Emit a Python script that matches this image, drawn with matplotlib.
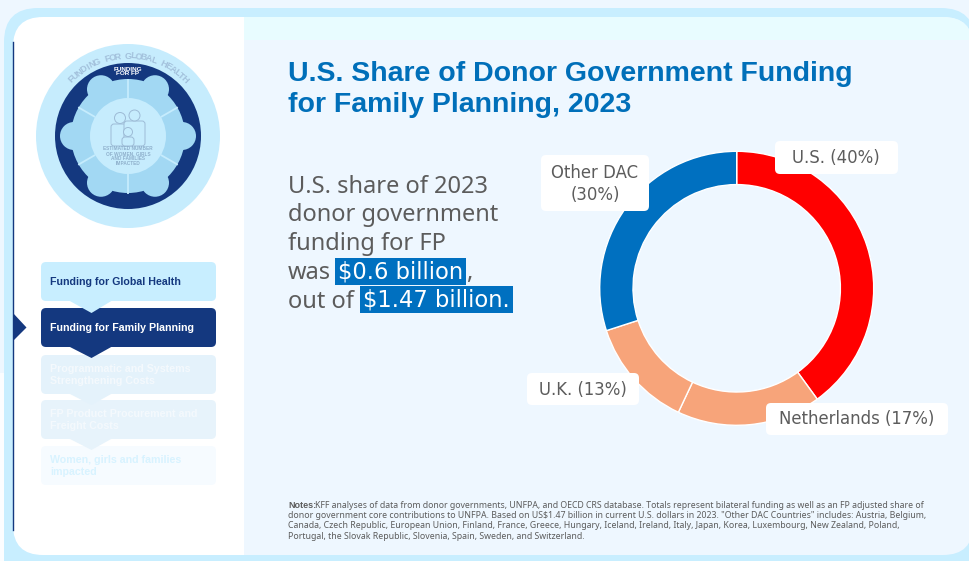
import numpy as np
import matplotlib
matplotlib.use('Agg')
import matplotlib.pyplot as plt
from matplotlib.patches import Circle, FancyBboxPatch, Polygon, Rectangle

plt.rcParams['font.family'] = ['Noto Sans', 'DejaVu Sans']
BOLD = 'Liberation Sans'

# data
donors = ['U.S.', 'Netherlands', 'U.K.', 'Other DAC']
shares = [40, 17, 13, 30]
donor_colors = ['#ff0000', '#f7a47a', '#f7a47a', '#0070c0']

title_lines = ['U.S. Share of Donor Government Funding', 'for Family Planning, 2023']
body_lines = ['U.S. share of 2023', 'donor government', 'funding for FP']
steps = ['Funding for Global Health', 'Funding for Family Planning',
         'Programmatic and Systems\nStrengthening Costs',
         'FP Product Procurement and\nFreight Costs',
         'Women, girls and families\nimpacted']
notes = ['KFF analyses of data from donor governments, UNFPA, and OECD CRS database. Totals represent bilateral funding as well as an FP adjusted share of',
         'donor government core contributions to UNFPA. Based on US$1.47 billion in current U.S. dollars in 2023. "Other DAC Countries" includes: Austria, Belgium,',
         'Canada, Czech Republic, European Union, Finland, France, Greece, Hungary, Iceland, Ireland, Italy, Japan, Korea, Luxembourg, New Zealand, Poland,',
         'Portugal, the Slovak Republic, Slovenia, Spain, Sweden, and Switzerland.']

BG = '#eef7ff'
FRAME = '#c8eeff'
NAVY = '#14387f'
GREY = '#5c5c5c'
BLUE = '#006fb9'

fig = plt.figure(figsize=(9.7, 5.61), dpi=100, facecolor=BG)
bg = fig.add_axes([0, 0, 1, 1])
bg.set_xlim(0, 970)
bg.set_ylim(561, 0)
bg.axis('off')


def rbox(x0, y0, x1, y1, r, color, z=1):
    p = FancyBboxPatch((x0 + r, y0 + r), x1 - x0 - 2 * r, y1 - y0 - 2 * r,
                       boxstyle='round,pad=%g,rounding_size=%g' % (r, r),
                       fc=color, ec='none', zorder=z)
    bg.add_patch(p)


# frame and panels
bg.add_patch(Rectangle((0, 373), 20, 188, fc='#fbfdff', ec='none', zorder=0))
rbox(4, 8, 975, 601, 34, FRAME, 1)
rbox(13, 17, 320, 555, 30, 'white', 2)
clip = FancyBboxPatch((43, 47), 900, 478, boxstyle='round,pad=30,rounding_size=30',
                      transform=bg.transData, fc='none', ec='none')
bg.add_patch(clip)
panel = Rectangle((244, 17), 730, 538, fc=BG, ec='none', zorder=3)
bg.add_patch(panel)
panel.set_clip_path(clip)
band = Rectangle((244, 17), 730, 23, fc='#e8fcff', ec='none', zorder=3)
bg.add_patch(band)
band.set_clip_path(clip)
bg.plot([13.5, 13.5], [42, 530], color=NAVY, lw=1, zorder=4)

# wheel icon
cx, cy = 128, 136
SEG = '#a2d8f3'
PALE = '#c6ecfd'
bg.add_patch(Circle((cx, cy), 92, fc=PALE, ec='none', zorder=4))
bg.add_patch(Circle((cx, cy), 73, fc=NAVY, ec='none', zorder=5))
bg.add_patch(Circle((cx, cy), 57, fc=SEG, ec='none', zorder=6))
for a in [0, 60, 120, 180, 240, 300]:
    t = np.radians(a)
    bg.add_patch(Circle((cx + 54 * np.cos(t), cy - 54 * np.sin(t)), 14, fc=SEG, ec='none', zorder=6))
    g = t + np.radians(30)
    bg.plot([cx + 38 * np.cos(g), cx + 57.5 * np.cos(g)], [cy - 38 * np.sin(g), cy - 57.5 * np.sin(g)],
            color=PALE, lw=1.3, zorder=7, solid_capstyle='butt')
bg.add_patch(Circle((cx, cy), 38, fc=PALE, ec='none', zorder=7))
txt = 'FUNDING FOR GLOBAL HEALTH'
for i, ch in enumerate(txt):
    a = np.radians(90 + 45 - i * 90 / (len(txt) - 1))
    bg.text(cx + 80 * np.cos(a), cy - 80 * np.sin(a), ch, fontsize=6.6, family=BOLD, fontweight='bold',
            color='#a3c1dc', rotation=np.degrees(a) - 90, ha='center', va='center', zorder=8)
bg.text(128, 71.5, 'FUNDING\nFOR FP', fontsize=4.6, family=BOLD, fontweight='bold', color='white', ha='center',
        va='center', linespacing=0.95, zorder=8)
bg.text(128, 156, 'ESTIMATED NUMBER\nOF WOMEN, GIRLS\nAND FAMILIES\nIMPACTED', fontsize=3.4, family=BOLD,
        fontweight='bold', color='#8fb0cc', ha='center', va='center', linespacing=0.95, zorder=11)
# family figures
fam = '#9dbbd6'
for (fx, fy, fr, bw, by, bh) in [(120, 118, 5.5, 18, 124, 22), (134.5, 115.5, 5.5, 21, 121, 25), (128, 132, 4.5, 12, 137, 9)]:
    bg.add_patch(Circle((fx, fy), fr, fc=PALE, ec=fam, lw=0.7, zorder=9))
    bg.add_patch(FancyBboxPatch((fx - bw / 2 + 3, by + 3), bw - 6, bh - 6, boxstyle='round,pad=3,rounding_size=3',
                                fc=PALE, ec=fam, lw=0.7, zorder=8 + (fr < 5)))

# step boxes
tops = [262, 308, 355, 400, 446]
box_colors = ['#c8eeff', NAVY, '#e4f2fb', '#e7f3fb', '#f6fbff']
text_colors = [NAVY, 'white', '#f4f9fd', '#f4f9fd', '#d8f3ff']
tips = [313, 358, 405, 450, None]
for i in range(5):
    rbox(41, tops[i], 216, tops[i] + 39, 5, box_colors[i], 5 + (5 - i))
    if tips[i]:
        y1 = tops[i] + 39
        bg.add_patch(Polygon([[68, y1 - 1], [113, y1 - 1], [91.5, tips[i]]], fc=box_colors[i], ec='none',
                             zorder=5 + (5 - i)))
    bg.text(50, tops[i] + 19.5, steps[i], fontsize=7.7, family=BOLD, fontweight='bold', color=text_colors[i],
            va='center', linespacing=1.25, zorder=12)
bg.add_patch(Polygon([[13, 313], [26.5, 327.5], [13, 341]], fc=NAVY, ec='none', zorder=5))

# title
for line, y in zip(title_lines, [74, 105]):
    bg.text(288, y, line, fontsize=20.5, family=BOLD, fontweight='bold', color=BLUE, va='center', zorder=5)

# side text
FS = 17
for line, y in zip(body_lines, [186.5, 214.5, 243.5]):
    bg.text(288, y, line, fontsize=FS, color=GREY, va='center', zorder=5)
bg.text(288, 272.5, 'was', fontsize=FS, color=GREY, va='center', zorder=5)
bg.text(288, 301.5, 'out of', fontsize=FS, color=GREY, va='center', zorder=5)
bg.add_patch(Rectangle((335, 258), 131, 27, fc='#0070c0', ec='none', zorder=5))
bg.add_patch(Rectangle((360, 286), 153, 27, fc='#0070c0', ec='none', zorder=5))
bg.text(400.5, 271.5, '$0.6 billion', fontsize=16.3, family='DejaVu Sans', color='white', ha='center', va='center',
        zorder=6, parse_math=False)
bg.text(436.5, 299.5, '$1.47 billion.', fontsize=16.3, family='DejaVu Sans', color='white', ha='center', va='center',
        zorder=6, parse_math=False)
bg.text(466.5, 272.5, ',', fontsize=FS, color=GREY, va='center', zorder=6)

# notes
for i, line in enumerate(notes):
    y = 505 + i * 10.4
    if i == 0:
        bg.text(288, y, 'Notes:', fontsize=6.5, family=BOLD, fontweight='bold', color=GREY, va='center', zorder=5)
        bg.text(315, y, line, fontsize=6.28, color=GREY, va='center', zorder=5, parse_math=False)
    else:
        bg.text(288, y, line, fontsize=6.3, color=GREY, va='center', zorder=5, parse_math=False)

# donut
R = 137
ax = fig.add_axes([(736.7 - R) / 970, 1 - (288.3 + R) / 561, 2 * R / 970, 2 * R / 561])
ax.pie(shares, colors=donor_colors, startangle=90, counterclock=False, radius=1,
       wedgeprops=dict(width=0.243, edgecolor='white', linewidth=1))
ax.set_xlim(-1, 1)
ax.set_ylim(-1, 1)
ax.patch.set_alpha(0)

# labels sit on top of the ring
labels = [f'{donors[0]} ({shares[0]}%)', f'{donors[1]} ({shares[1]}%)', f'{donors[2]} ({shares[2]}%)',
          f'{donors[3]}\n({shares[3]}%)']
label_pos = [(836, 158), (857, 419), (583, 390), (595, 184)]
label_box = [(775, 141, 898, 174), (766, 403, 948, 435), (527, 373, 639, 405), (541, 155, 649, 211)]
top = fig.add_axes([0, 0, 1, 1])
top.set_xlim(0, 970)
top.set_ylim(561, 0)
top.axis('off')
for lab, (lx, ly), (x0, y0, x1, y1) in zip(labels, label_pos, label_box):
    r = 5
    top.add_patch(FancyBboxPatch((x0 + r, y0 + r), x1 - x0 - 2 * r, y1 - y0 - 2 * r,
                                 boxstyle='round,pad=%g,rounding_size=%g' % (r, r), fc='white', ec='none'))
    top.text(lx, ly, lab, fontsize=11.9, family='DejaVu Sans', color=GREY, ha='center', va='center', linespacing=1.3)

fig.savefig('out.png', dpi=100, facecolor=BG)
